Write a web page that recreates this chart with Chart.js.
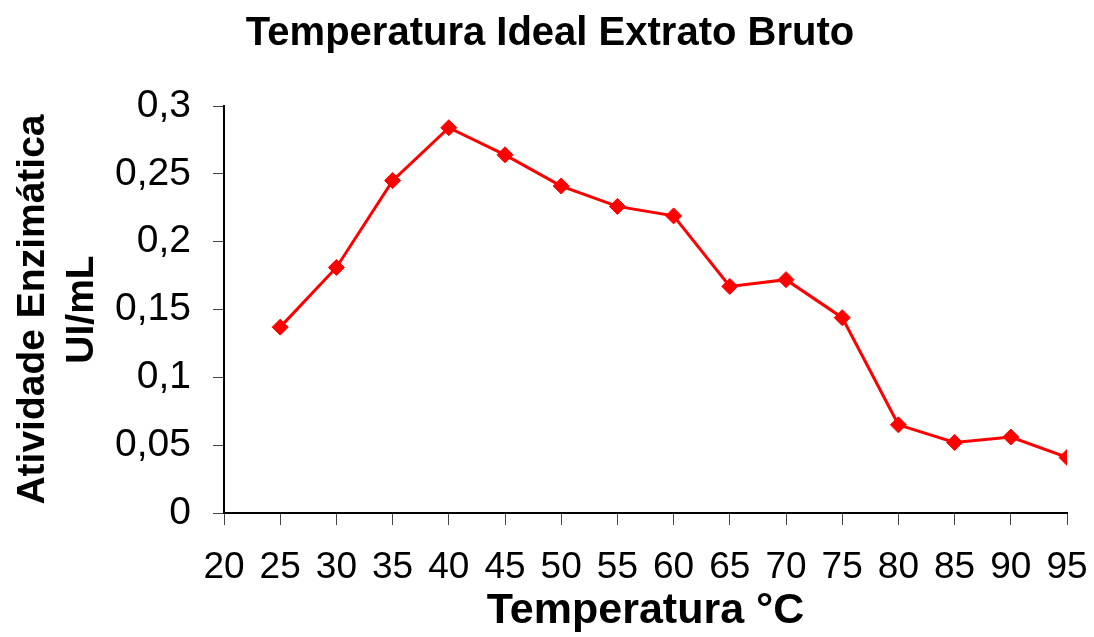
<!DOCTYPE html>
<html>
<head>
<meta charset="utf-8">
<script src="https://cdn.jsdelivr.net/npm/chart.js@4/dist/chart.umd.min.js"></script>
<style>
  html, body { margin: 0; padding: 0; background: #ffffff; }
  #wrap { width: 1094px; height: 637px; }
</style>
</head>
<body>
<div id="wrap"><canvas id="chart" width="1094" height="637"></canvas></div>
<script>
const temperatures = [25, 30, 35, 40, 45, 50, 55, 60, 65, 70, 75, 80, 85, 90, 95];
const activity = [0.137, 0.181, 0.245, 0.284, 0.264, 0.241, 0.226, 0.219, 0.167, 0.172, 0.144, 0.065, 0.052, 0.056, 0.041];

const chartTitle = "Temperatura Ideal Extrato Bruto";
const xTitle = "Temperatura °C";
const yTitle = ["Atividade Enzimática", "UI/mL"];

const FONT = "\"Liberation Sans\", Arial, sans-serif";

function commaNumber(value) {
  return String(Number(value.toFixed(2))).replace(".", ",");
}

new Chart(document.getElementById("chart"), {
  type: "line",
  data: {
    datasets: [{
      data: temperatures.map((t, i) => ({ x: t, y: activity[i] })),
      borderColor: "#ff0000",
      backgroundColor: "#ff0000",
      borderWidth: 3,
      pointStyle: "rectRot",
      pointRadius: 8,
      pointBorderWidth: 1,
      tension: 0
    }]
  },
  options: {
    responsive: false,
    animation: false,
    devicePixelRatio: 1,
    layout: { padding: { left: 6, right: 0, top: 0, bottom: 0 } },
    plugins: {
      legend: { display: false },
      tooltip: { enabled: false },
      title: {
        display: true,
        text: chartTitle,
        color: "#000000",
        font: { family: FONT, size: 40, weight: "bold", lineHeight: 1.2 },
        padding: { top: 10, bottom: 48 }
      }
    },
    scales: {
      x: {
        type: "linear",
        min: 20,
        max: 95,
        afterFit: (scale) => {
          scale.height = 124;
          scale.paddingLeft = 0;
          scale.paddingRight = 27;
        },
        border: { display: true, color: "#000000", width: 2 },
        grid: { drawOnChartArea: false, color: "#444444", lineWidth: 1, tickLength: 12 },
        ticks: {
          stepSize: 5,
          color: "#000000",
          padding: 21,
          maxRotation: 0,
          font: { family: FONT, size: 37 }
        },
        title: {
          display: true,
          text: xTitle,
          color: "#000000",
          font: { family: FONT, size: 43, weight: "bold", lineHeight: 1.2 },
          padding: { top: 0, bottom: 0 }
        }
      },
      y: {
        min: 0,
        max: 0.3,
        afterFit: (scale) => { scale.width = 218; },
        border: { display: true, color: "#000000", width: 2 },
        grid: { drawOnChartArea: false, color: "#444444", lineWidth: 1, tickLength: 11 },
        ticks: {
          stepSize: 0.05,
          color: "#000000",
          padding: 22,
          font: { family: FONT, size: 39 },
          callback: (value) => commaNumber(value)
        },
        title: {
          display: true,
          text: yTitle,
          color: "#000000",
          font: { family: FONT, size: 39, weight: "bold", lineHeight: 1.25 },
          padding: { top: 3, bottom: 0 }
        }
      }
    }
  }
});
</script>
</body>
</html>
